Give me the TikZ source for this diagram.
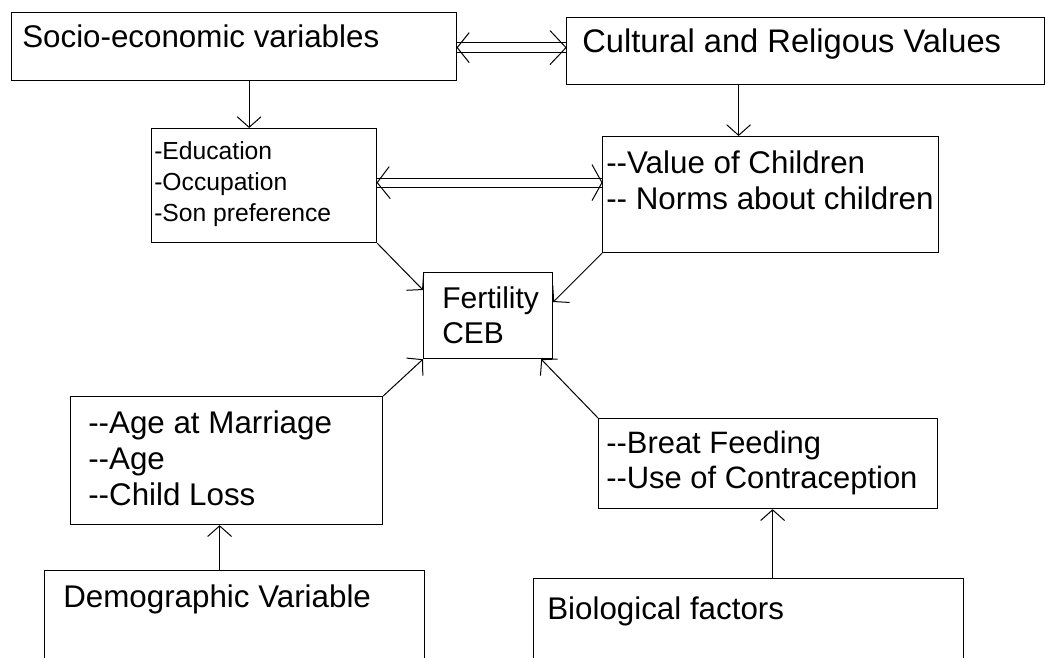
\documentclass[tikz,border=0pt]{standalone}
\usepackage{fontspec}
\setmainfont{Liberation Sans}
\usetikzlibrary{arrows.meta}
\newcommand\hh{-\kern0pt-}
\begin{document}
\begin{tikzpicture}[x=0.75pt,y=-0.75pt,
  box/.style={draw, line width=0.9pt, inner sep=0pt, anchor=north west},
  txt/.style={inner sep=0pt, anchor=base west, font=\fontsize{23.5}{27}\selectfont},
  small/.style={inner sep=0pt, anchor=base west, font=\fontsize{18.5}{23.6}\selectfont},
  arr/.style={line width=0.75pt, -{Straight Barb[length=8pt,width=18pt]}},
  ln/.style={line width=0.75pt}]
\useasboundingbox (0,0) rectangle (1046,657);
\clip (0,0) rectangle (1046,657);

% boxes
\node[box, minimum width=333.75pt, minimum height=51pt] (soc) at (11,12) {};
\node[box, minimum width=358.5pt, minimum height=50.25pt] (cul) at (566,17) {};
\node[box, minimum width=168.75pt, minimum height=85.5pt] (edu) at (151,128) {};
\node[box, minimum width=252pt, minimum height=87pt] (val) at (602,136) {};
\node[box, minimum width=96.75pt, minimum height=64.5pt] (fer) at (423,272) {};
\node[box, minimum width=234pt, minimum height=96pt] (age) at (70,396) {};
\node[box, minimum width=254.25pt, minimum height=67.5pt] (bre) at (598,418) {};
\node[box, minimum width=285pt, minimum height=82.5pt] (dem) at (44,570) {};
\node[box, minimum width=322.5pt, minimum height=75pt] (bio) at (533,578) {};

% texts
\node[txt] (soct) at (22,47) {Socio-economic variables};
\node[txt, font=\fontsize{24.5}{27}\selectfont] (cult) at (582,52) {Cultural and Religous Values};
\node[small] (edut) at (154,159) {\vtop{\hbox{-Education}\hbox{-Occupation}\hbox{-Son preference}}};
\node[txt] (valt) at (606,173) {\vtop{\hbox{\hh Value of Children}\hbox{\hh{} Norms about children}}};
\node[txt, font=\fontsize{22.5}{26.25}\selectfont] (fert) at (442,308) {\vtop{\hbox{Fertility}\hbox{CEB}}};
\node[txt] (aget) at (88,433) {\vtop{\hbox{\hh Age at Marriage}\hbox{\hh Age}\hbox{\hh Child Loss}}};
\node[txt, font=\fontsize{23.2}{26.25}\selectfont] (bret) at (606,453) {\vtop{\hbox{\hh Breat Feeding}\hbox{\hh Use of Contraception}}};
\node[txt] (demt) at (63,607) {Demographic Variable};
\node[txt] (biot) at (547,619) {Biological factors};

% double arrow: socio <-> cultural
\coordinate (d1a) at ([yshift=-0.75pt]soc.east);
\coordinate (d1b) at (d1a -| cul.west);
\draw[ln] ([yshift=3.75pt]d1a) -- ([yshift=3.75pt]d1b);
\draw[ln] ([yshift=-3.75pt]d1a) -- ([yshift=-3.75pt]d1b);
\draw[ln] ([shift={(12,-15)}]d1a) -- (d1a) -- ([shift={(12,15)}]d1a);
\draw[ln] ([shift={(-16,-17)}]d1b) -- (d1b) -- ([shift={(-16,17)}]d1b);

% double arrow: education <-> value
\coordinate (d2a) at ([yshift=2.25pt]edu.east);
\coordinate (d2b) at (d2a -| val.west);
\draw[ln] ([yshift=3.4pt]d2a) -- ([yshift=3.4pt]d2b);
\draw[ln] ([yshift=-3.4pt]d2a) -- ([yshift=-3.4pt]d2b);
\draw[ln] ([shift={(12,-16)}]d2a) -- (d2a) -- ([shift={(13,16)}]d2a);
\draw[ln] ([shift={(-10,-18)}]d2b) -- (d2b) -- ([shift={(-10,18)}]d2b);

% vertical arrows
\coordinate (a1s) at ([xshift=11.25pt]soc.south);
\draw[arr] (a1s) -- (a1s |- edu.north);
\coordinate (a2s) at ([xshift=-50.25pt]cul.south);
\draw[arr] (a2s) -- (a2s |- val.north);
\coordinate (a3s) at ([xshift=-11.25pt]dem.north);
\draw[arr] (a3s) -- (a3s |- age.south);
\coordinate (a4s) at ([xshift=18pt]bio.north);
\draw[arr] (a4s) -- (a4s |- bre.south);

% diagonal arrows into fertility
\draw[arr] (edu.south east) -- ([yshift=-13.5pt]fer.north west);
\draw[arr] (val.south west) -- ([yshift=-22.5pt]fer.north east);
\draw[arr] (age.north east) -- (fer.south west);
\draw[arr] (bre.north west) -- ([xshift=-9pt]fer.south east);
\end{tikzpicture}
\end{document}
